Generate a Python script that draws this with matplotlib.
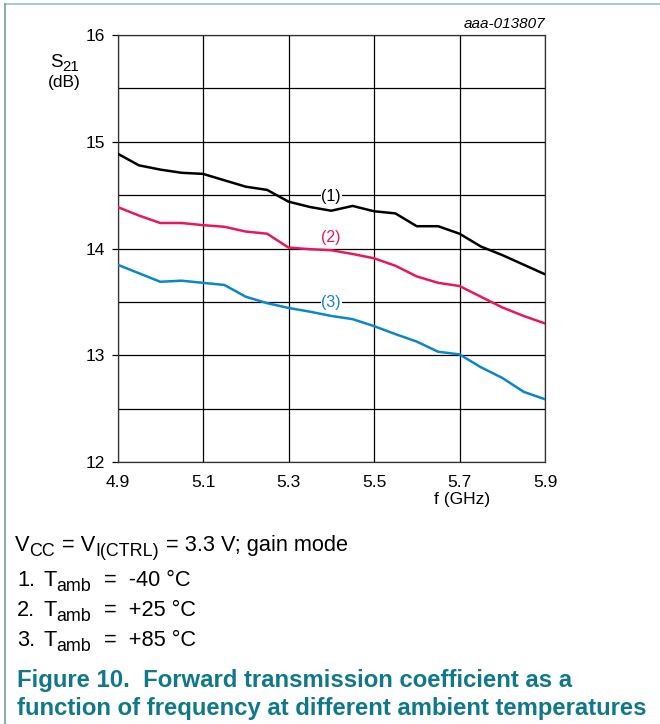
import matplotlib
matplotlib.use("Agg")
import matplotlib.pyplot as plt
from matplotlib.lines import Line2D
from matplotlib.transforms import IdentityTransform

plt.rcParams["font.family"] = ["Liberation Sans", "DejaVu Sans"]

W, H = 660, 724

# frequency axis (GHz)
freq = [4.90, 4.95, 5.00, 5.05, 5.10, 5.15, 5.20, 5.25, 5.30, 5.35,
        5.40, 5.45, 5.50, 5.55, 5.60, 5.65, 5.70, 5.75, 5.80, 5.85, 5.90]

# S21 (dB) per ambient temperature
s21_m40 = [14.89, 14.78, 14.74, 14.71, 14.70, 14.64, 14.58, 14.55, 14.44, 14.39,
           14.355, 14.40, 14.35, 14.33, 14.21, 14.21, 14.14, 14.02, 13.94, 13.85, 13.76]
s21_p25 = [14.39, 14.31, 14.24, 14.24, 14.22, 14.205, 14.16, 14.14, 14.01, 13.995,
           13.985, 13.95, 13.91, 13.84, 13.74, 13.68, 13.65, 13.55, 13.45, 13.37, 13.30]
s21_p85 = [13.85, 13.77, 13.69, 13.70, 13.68, 13.66, 13.55, 13.49, 13.445, 13.41,
           13.37, 13.34, 13.275, 13.20, 13.13, 13.035, 13.01, 12.89, 12.79, 12.66, 12.59]

curve_labels = ["(1)", "(2)", "(3)"]
label_pos = [(5.40, 14.49), (5.40, 14.10), (5.40, 13.50)]
colors = ["#000000", "#e5195c", "#0a87c9"]

x_ticks = [4.9, 5.1, 5.3, 5.5, 5.7, 5.9]
y_ticks = [12, 13, 14, 15, 16]

temps = ["-40 °C", "+25 °C", "+85 °C"]

fig = plt.figure(figsize=(W / 100, H / 100), dpi=100)
renderer = fig.canvas.get_renderer()


def rich(x, y, parts, size, sub_scale=0.82, sub_drop=0.25, **kw):
    """Draw text chunks one after another; y is the baseline in pixels from the top."""
    for s, sub in parts:
        fs = size * sub_scale if sub else size
        yy = y + (size * 1.389 * sub_drop if sub else 0)
        t = fig.text(x, H - yy, s, transform=IdentityTransform(), fontsize=fs,
                     ha="left", va="baseline", **kw)
        x = t.get_window_extent(renderer).x1 + (1 if sub else 0)
    return x


ax = fig.add_axes([117.5 / W, 1 - 462.3 / H, 427.5 / W, 427.3 / H])

for ys, c in zip([s21_m40, s21_p25, s21_p85], colors):
    ax.plot(freq, ys, color=c, lw=1.8, solid_joinstyle="round", solid_capstyle="round", zorder=3)

for lab, (lx, ly), c in zip(curve_labels, label_pos, colors):
    ax.text(lx, ly, lab, color=c, fontsize=11.5, ha="center", va="center", zorder=4,
            bbox=dict(facecolor="white", edgecolor="none", pad=0.5))

ax.set_xlim(4.9, 5.9)
ax.set_ylim(12, 16)
ax.set_xticks(x_ticks)
ax.set_xticklabels([f"{v:.1f}" for v in x_ticks])
ax.set_yticks(y_ticks)
ax.set_yticks([12.5, 13.5, 14.5, 15.5], minor=True)
ax.grid(True, which="both", color="black", lw=0.9)
ax.tick_params(axis="x", length=0, labelsize=12.5, pad=9)
ax.tick_params(axis="y", which="major", length=4, width=0.9, labelsize=12.5, pad=5)
ax.tick_params(axis="y", which="minor", length=0)
for sp in ax.spines.values():
    sp.set_linewidth(0.9)
    sp.set_color("#333333")

ax.text(5.705, -0.088, "f (GHz)", transform=ax.get_xaxis_transform(),
        ha="center", va="center", fontsize=12.5)

# y-axis title S21 (dB)
rich(50, 67, [("S", False), ("21", True)], 13.5, sub_scale=0.8, sub_drop=0.2)
fig.text(64 / W, 1 - 82 / H, "(dB)", ha="center", va="center", fontsize=12.5)
fig.text(545 / W, 1 - 24 / H, "aaa-013807", ha="right", va="center", fontsize=11, style="italic")

# conditions below the chart
rich(15, 551, [("V", False), ("CC", True), (" = V", False), ("I(CTRL)", True),
               (" = 3.3 V; gain mode", False)], 15.7)
for i, t in enumerate(temps):
    y = 586 + 30 * i
    fig.text(17, H - y, f"{i + 1}.", transform=IdentityTransform(), fontsize=15.7,
             ha="left", va="baseline")
    rich(43, y, [("T", False), ("amb", True), ("  =  " + t, False)], 15.7)

teal = "#10788a"
fig.text(17 / W, 1 - 681 / H, "Figure 10.  Forward transmission coefficient as a",
         ha="left", va="center", fontsize=17.2, fontweight="bold", color=teal)
fig.text(17 / W, 1 - 709 / H, "function of frequency at different ambient temperatures",
         ha="left", va="center", fontsize=17.2, fontweight="bold", color=teal)

# page frame lines
fig.add_artist(Line2D([5 / W, 1], [1 - 4 / H, 1 - 4 / H], color="#a6cdd4", lw=1.5))
fig.add_artist(Line2D([5 / W, 5 / W], [0, 1 - 4 / H], color="#6f9ea8", lw=1.2))

fig.savefig("out.png", dpi=100)
